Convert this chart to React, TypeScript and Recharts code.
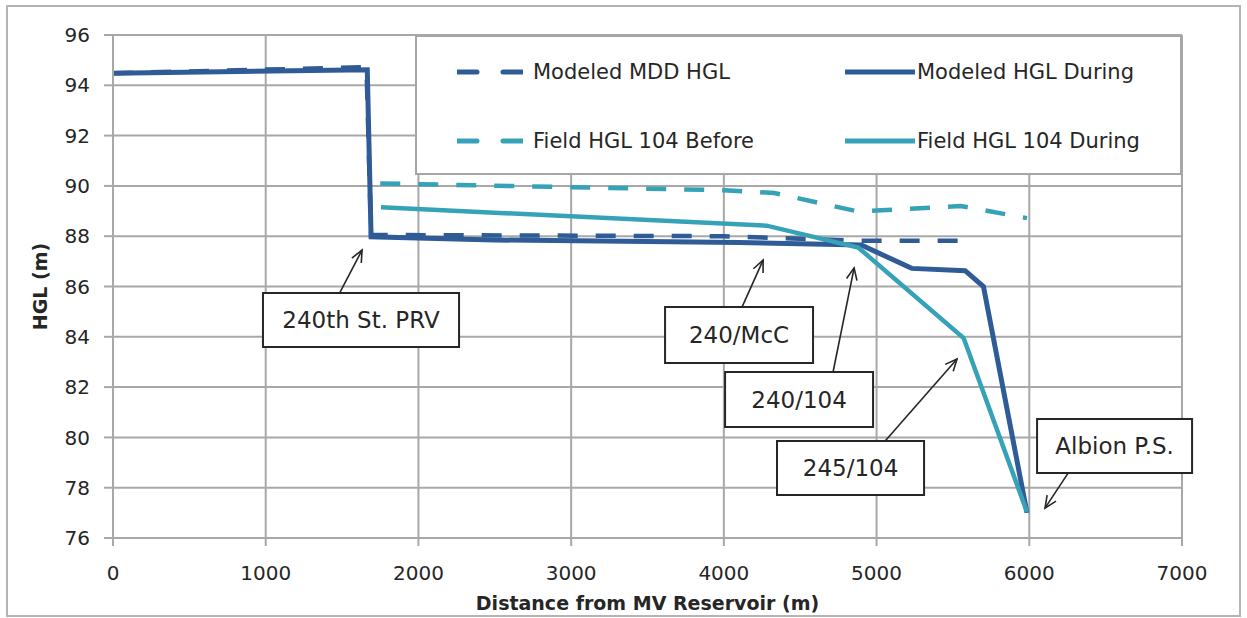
import React from 'react';
import { LineChart, Line, XAxis, YAxis, CartesianGrid, Legend, ReferenceArea, ReferenceLine, Label } from 'recharts';

const FONT = '"DejaVu Sans", sans-serif';
const DARK = '#2F5B97';
const TEAL = '#36A2B7';
const GRID = '#A8A8A8';
const TEXT = '#262626';

const xTicks = [0, 1000, 2000, 3000, 4000, 5000, 6000, 7000];
const yTicks = [76, 78, 80, 82, 84, 86, 88, 90, 92, 94, 96];

// Modeled MDD HGL
const mddX = [0, 1660, 1690, 4000, 4500, 4900, 5600];
const mddY = [94.48, 94.72, 88.05, 88.0, 87.9, 87.82, 87.82];

// Modeled HGL During
const modDuringX = [0, 1665, 1690, 2500, 4100, 4900, 5230, 5580, 5700, 5985];
const modDuringY = [94.48, 94.62, 87.98, 87.85, 87.75, 87.65, 86.72, 86.63, 86.0, 77.0];

// Field HGL 104 Before
const beforeX = [1750, 4000, 4330, 4880, 5550, 5985];
const beforeY = [90.1, 89.83, 89.72, 88.98, 89.2, 88.72];

// Field HGL 104 During
const fieldDuringX = [1755, 4280, 4880, 5570, 5985];
const fieldDuringY = [89.15, 88.42, 87.55, 83.95, 77.03];

const toPts = (xs: number[], ys: number[]) => xs.map((x, i) => ({ x, y: ys[i] }));

const seriesNames = ['Modeled MDD HGL', 'Modeled HGL During', 'Field HGL 104 Before', 'Field HGL 104 During'];
const seriesColors = [DARK, DARK, TEAL, TEAL];
const seriesDashed = [true, false, true, false];

// annotation boxes: [label, x1, x2, yTop, yBottom]
const boxLabels = ['240th St. PRV', '240/McC', '240/104', '245/104', 'Albion P.S.'];
const boxX1 = [982, 3615, 4008, 4348, 6051];
const boxX2 = [2266, 4584, 4977, 5311, 7066];
const boxYTop = [85.74, 85.18, 82.6, 79.86, 80.73];
const boxYBot = [83.59, 82.96, 80.41, 77.71, 78.58];

// arrows: from (fx, fy) to tip (tx, ty)
const arrowFromX = [1487, 4119, 4715, 5056, 6254];
const arrowFromY = [85.78, 85.18, 82.6, 79.86, 78.58];
const arrowToX = [1631, 4257, 4853, 5527, 6103];
const arrowToY = [87.45, 87.05, 86.74, 83.12, 77.19];

function Arrow(props: any) {
  const { x1, y1, x2, y2 } = props;
  const ang = Math.atan2(y2 - y1, x2 - x1);
  const len = 13;
  const spread = 0.42;
  const ax = x2 - len * Math.cos(ang - spread);
  const ay = y2 - len * Math.sin(ang - spread);
  const bx = x2 - len * Math.cos(ang + spread);
  const by = y2 - len * Math.sin(ang + spread);
  return (
    <g>
      <line x1={x1} y1={y1} x2={x2} y2={y2} stroke={TEXT} strokeWidth={1.6} />
      <polyline points={`${ax},${ay} ${x2},${y2} ${bx},${by}`} fill="none" stroke={TEXT} strokeWidth={1.6} />
    </g>
  );
}

function LegendBox() {
  const colLeft = [40, 428];
  const colText = [118, 502];
  const rowMid = [37, 106];
  return (
    <div
      style={{
        width: 767,
        height: 140,
        boxSizing: 'border-box',
        border: '2px solid #A6A6A6',
        background: '#fff',
        position: 'relative',
        fontFamily: FONT,
        fontSize: 21,
        color: TEXT,
      }}
    >
      {seriesNames.map((name, i) => {
        const col = i % 2;
        const row = Math.floor(i / 2);
        const w = col === 0 ? 66 : 70;
        return (
          <React.Fragment key={name}>
            <svg
              width={w}
              height={10}
              style={{ position: 'absolute', left: colLeft[col], top: rowMid[row] - 5 - 2 }}
            >
              <line
                x1={0}
                y1={5}
                x2={w}
                y2={5}
                stroke={seriesColors[i]}
                strokeWidth={5}
                strokeDasharray={seriesDashed[i] ? '20 26' : undefined}
                strokeLinecap="round"
              />
            </svg>
            <span
              style={{
                position: 'absolute',
                left: colText[col] - 2,
                top: rowMid[row] - 13 - 2,
                lineHeight: '26px',
                whiteSpace: 'nowrap',
              }}
            >
              {name}
            </span>
          </React.Fragment>
        );
      })}
    </div>
  );
}

const seriesData = [toPts(mddX, mddY), toPts(modDuringX, modDuringY), toPts(beforeX, beforeY), toPts(fieldDuringX, fieldDuringY)];

export default function App() {
  return (
    <div style={{ position: 'absolute', left: 0, top: 0, width: 1247, height: 618, background: '#fff' }}>
      <div
        style={{
          position: 'absolute',
          left: 6,
          top: 5,
          width: 1235,
          height: 612,
          boxSizing: 'border-box',
          border: '2px solid #B4B4B4',
        }}
      />
      <div style={{ position: 'absolute', left: 0, top: 0 }}>
        <LineChart width={1247} height={618} margin={{ top: 35, right: 65, bottom: 0, left: 0 }}>
          <CartesianGrid stroke={GRID} strokeWidth={2} />
          <XAxis
            type="number"
            dataKey="x"
            domain={[0, 7000]}
            ticks={xTicks}
            tickSize={8}
            tickMargin={20}
            height={80}
            stroke={GRID}
            strokeWidth={2}
            tick={{ fill: TEXT, fontSize: 20, fontFamily: FONT }}
            allowDataOverflow
          >
            <Label
              value="Distance from MV Reservoir (m)"
              position="insideBottom"
              offset={8}
              fontSize={19}
              fontWeight="bold"
              fontFamily={FONT}
              fill={TEXT}
            />
          </XAxis>
          <YAxis
            type="number"
            domain={[76, 96]}
            ticks={yTicks}
            tickSize={9}
            tickMargin={14}
            width={113}
            stroke={GRID}
            strokeWidth={2}
            tick={{ fill: TEXT, fontSize: 20, fontFamily: FONT }}
            allowDataOverflow
          >
            <Label
              value="HGL (m)"
              angle={-90}
              position="insideLeft"
              offset={40}
              style={{ textAnchor: 'middle' }}
              fontSize={19}
              fontWeight="bold"
              fontFamily={FONT}
              fill={TEXT}
            />
          </YAxis>
          <Legend
            layout="horizontal"
            verticalAlign="middle"
            align="center"
            wrapperStyle={{ left: 415, top: 35, width: 767, height: 140 }}
            content={() => <LegendBox />}
          />
          {seriesNames.map((name, i) => (
            <Line
              key={name}
              name={name}
              data={seriesData[i]}
              dataKey="y"
              type="linear"
              stroke={seriesColors[i]}
              strokeWidth={i === 1 ? 5 : 4.5}
              strokeDasharray={seriesDashed[i] ? '20 18' : undefined}
              dot={false}
              activeDot={false}
              isAnimationActive={false}
            />
          ))}
          {boxLabels.map((lab, i) => (
            <ReferenceArea
              key={lab}
              x1={boxX1[i]}
              x2={boxX2[i]}
              y1={boxYBot[i]}
              y2={boxYTop[i]}
              ifOverflow="visible"
              fill="#fff"
              fillOpacity={1}
              stroke={TEXT}
              strokeWidth={2}
              label={{ value: lab, position: 'center', fill: TEXT, fontSize: 23, fontFamily: FONT }}
            />
          ))}
          {arrowFromX.map((fx, i) => (
            <ReferenceLine
              key={'arrow' + i}
              segment={[
                { x: fx, y: arrowFromY[i] },
                { x: arrowToX[i], y: arrowToY[i] },
              ]}
              ifOverflow="visible"
              shape={(p: any) => <Arrow {...p} />}
            />
          ))}
        </LineChart>
      </div>
    </div>
  );
}
